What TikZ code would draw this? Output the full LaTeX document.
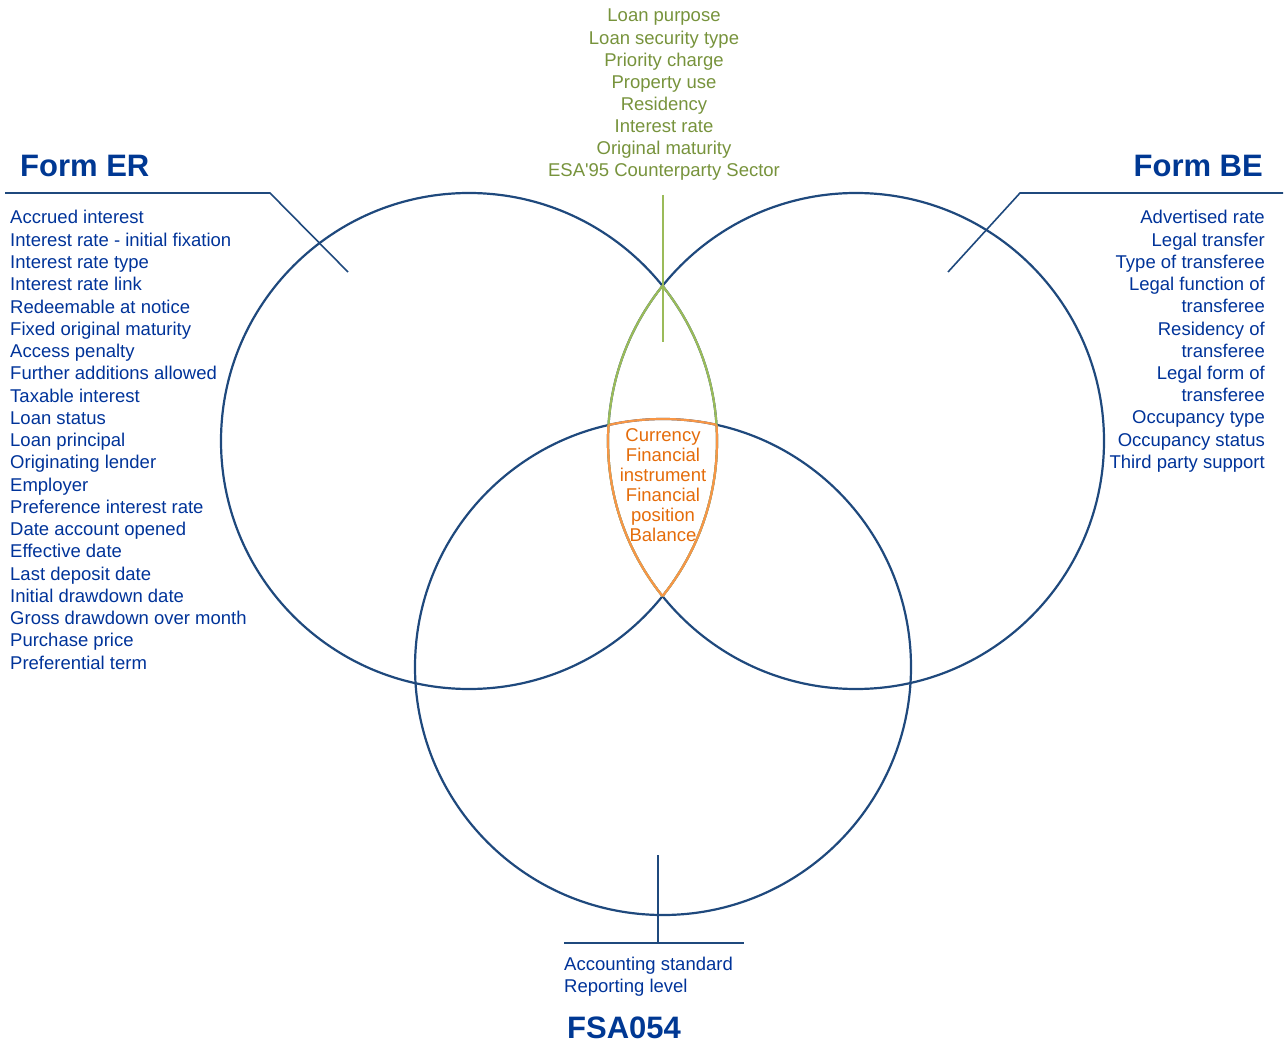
\documentclass[tikz,border=0pt]{standalone}
\usepackage{fontspec}
\setmainfont{Liberation Sans}
\definecolor{ringblue}{RGB}{31,73,125}
\definecolor{textblue}{RGB}{0,51,153}
\definecolor{titleblue}{RGB}{0,56,147}
\definecolor{leafgreen}{RGB}{119,147,60}
\definecolor{lensgreen}{RGB}{155,187,89}
\definecolor{darkorange}{RGB}{228,108,10}
\definecolor{lensorange}{RGB}{247,150,70}
\tikzset{
	form title/.style={
		font=\fontsize{31}{36}\selectfont\bfseries,
		text=titleblue,
		inner sep=0pt
	},
	list item/.style={
		font=\fontsize{18.5}{22.3}\selectfont,
		text=textblue,
		inner sep=0pt
	},
	ring/.style={
		draw=ringblue,
		line width=2.2pt
	},
}
\def\ringER{(469,441) circle (248pt)}
\def\ringBE{(856,441) circle (248pt)}
\def\ringFSA{(663,667) circle (248pt)}

\begin{document}
\begin{tikzpicture}[x=1pt, y=-1pt]
\useasboundingbox (0,0) rectangle (1285,1043);

% the three forms
\draw [ring] \ringER;
\draw [ring] \ringBE;
\draw [ring] \ringFSA;

% shared by ER and BE
\begin{scope}
	\clip \ringER;
	\draw [lensgreen, line width=2.2pt] \ringBE;
\end{scope}
\begin{scope}
	\clip \ringBE;
	\draw [lensgreen, line width=2.2pt] \ringER;
\end{scope}

% shared by all three
\begin{scope}
	\clip \ringER; \clip \ringFSA;
	\draw [lensorange, line width=2.2pt] \ringBE;
\end{scope}
\begin{scope}
	\clip \ringBE; \clip \ringFSA;
	\draw [lensorange, line width=2.2pt] \ringER;
\end{scope}
\begin{scope}
	\clip \ringER; \clip \ringBE;
	\draw [lensorange, line width=2.2pt] \ringFSA;
\end{scope}

% leader lines
\coordinate (er-end) at (5,193);
\coordinate (er-bend) at (270,193);
\coordinate (er-tip) at (348,272);
\coordinate (be-end) at (1283,193);
\coordinate (be-bend) at (1020,193);
\coordinate (be-tip) at (948,272);
\coordinate (common-top) at (663,195);
\coordinate (common-tip) at (663,342);
\coordinate (fsa-tip) at (658,855);
\coordinate (fsa-bend) at (658,943);
\coordinate (fsa-left) at (564,943);
\coordinate (fsa-right) at (744,943);

\draw [ringblue, line width=1.6pt] (er-end) -- (er-bend) -- (er-tip);
\draw [ringblue, line width=1.6pt] (be-end) -- (be-bend) -- (be-tip);
\draw [lensgreen, line width=1.6pt] (common-top) -- (common-tip);
\draw [ringblue, line width=1.6pt] (fsa-tip) -- (fsa-bend);
\draw [ringblue, line width=1.6pt] (fsa-left) -- (fsa-right);

% titles
\node [form title, anchor=base west] (er-title) at (20,177) {Form ER};
\node [form title, anchor=base east] (be-title) at (1263,177) {Form BE};
\node [form title, anchor=base west] (fsa-title) at (567,1038) {FSA054};

\foreach \l [count=\i] in {Accrued interest, Interest rate - initial fixation,
	Interest rate type, Interest rate link, Redeemable at notice,
	Fixed original maturity, Access penalty, Further additions allowed,
	Taxable interest, Loan status, Loan principal, Originating lender,
	Employer, Preference interest rate, Date account opened, Effective date,
	Last deposit date, Initial drawdown date, Gross drawdown over month,
	Purchase price, Preferential term}
	\node [list item, anchor=base west] (er-\i) at (10,201.75+22.25*\i) {\l};

\foreach \l [count=\i] in {Advertised rate, Legal transfer, Type of transferee,
	Legal function of, transferee, Residency of, transferee, Legal form of,
	transferee, Occupancy type, Occupancy status, Third party support}
	\node [list item, anchor=base east] (be-\i) at (1265,201.8+22.2*\i) {\l};

\foreach \l [count=\i] in {Loan purpose, Loan security type, Priority charge,
	Property use, Residency, Interest rate, Original maturity,
	ESA\textquotesingle95 Counterparty Sector}
	\node [list item, anchor=base, text=leafgreen] (ber-\i) at (664,-0.1+22.1*\i) {\l};

\foreach \l [count=\i] in {Currency, Financial, instrument, Financial,
	position, Balance}
	\node [list item, anchor=base, text=darkorange] (all-\i) at (663,421+20*\i) {\l};

\foreach \l [count=\i] in {Accounting standard, Reporting level}
	\node [list item, anchor=base west] (fsa-\i) at (564,948+22*\i) {\l};

\end{tikzpicture}
\end{document}
